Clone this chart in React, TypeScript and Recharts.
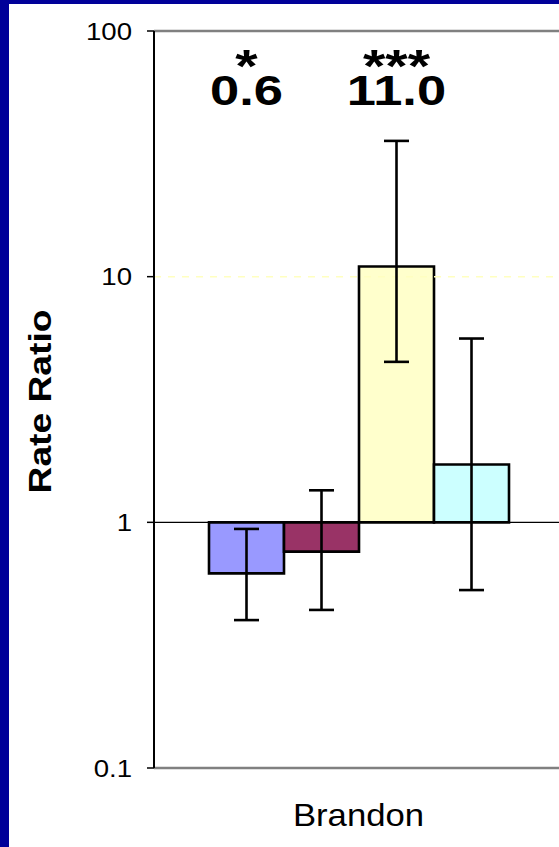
import { BarChart, Bar, XAxis, YAxis, ErrorBar, LabelList, ReferenceLine } from "recharts";

// values
const groups = ["Brandon"];
const seriesKeys = ["s0", "s1", "s2", "s3"];
const estimates = [0.62, 0.76, 11.0, 1.72];
const lowerCI = [0.4, 0.44, 4.5, 0.53];
const upperCI = [0.94, 1.35, 35.7, 5.6];
const stars = ["*", "", "***", ""];
const yTicks = [0.1, 1, 10, 100];

const barFills = ["#9999ff", "#993366", "#ffffcc", "#ccffff"];
const FONT = '"Liberation Sans", Arial, Helvetica, sans-serif';

// bars hang from 1 (the null ratio), so each is a [1, estimate] range
const data = groups.map((name) => {
  const row: Record<string, unknown> = { name };
  seriesKeys.forEach((k, i) => {
    row[k] = [1, estimates[i]];
    row[`${k}Err`] = [estimates[i] - lowerCI[i], upperCI[i] - estimates[i]];
  });
  return row;
});

function YTick({ x, y, payload }: any) {
  return (
    <text
      transform={`translate(${x},${y}) scale(1.15,1)`}
      textAnchor="end"
      dy="0.355em"
      fontSize={24}
      fontFamily={FONT}
      fill="#000"
    >
      {payload.value}
    </text>
  );
}

function XTick({ x, y, payload }: any) {
  return (
    <text
      transform={`translate(${x},${y}) scale(1.12,1)`}
      textAnchor="middle"
      dy="0.71em"
      fontSize={31}
      fontFamily={FONT}
      fill="#000"
    >
      {payload.value}
    </text>
  );
}

function AxisTitle({ viewBox }: any) {
  const cy = viewBox.y + viewBox.height / 2 + 2;
  return (
    <text
      transform={`translate(40,${cy}) rotate(-90) scale(1.2,1)`}
      textAnchor="middle"
      dy="0.355em"
      fontSize={31}
      fontWeight="bold"
      fontFamily={FONT}
      fill="#000"
    >
      Rate Ratio
    </text>
  );
}

// significance stars stacked over the rounded estimate, one text element
function SigLabel({ x, width, series }: any) {
  if (!stars[series]) return null;
  const cx = x + width / 2;
  return (
    <text
      transform={`translate(${cx},105) scale(1.25,1)`}
      textAnchor="middle"
      fontWeight="bold"
      fontFamily={FONT}
      fill="#000"
    >
      <tspan x={0} y={-23} fontSize={46}>
        {stars[series]}
      </tspan>
      <tspan x={0} y={0} fontSize={42}>
        {estimates[series].toFixed(1)}
      </tspan>
    </text>
  );
}

export default function App() {
  return (
    <div
      style={{
        position: "fixed",
        left: 0,
        top: 0,
        width: 559,
        height: 847,
        background: "#000099",
        overflow: "hidden",
      }}
    >
      <div style={{ position: "absolute", left: 9, top: 4, right: 0, bottom: 0, background: "#fff" }} />
      <div style={{ position: "absolute", left: 0, top: 0 }}>
        <BarChart
          width={563}
          height={847}
          data={data}
          margin={{ top: 31, right: 0, bottom: 0, left: 0 }}
          barGap={0}
          barSize={75}
        >
          <XAxis
            dataKey="name"
            height={79}
            tickLine={false}
            tickSize={0}
            tickMargin={36}
            axisLine={{ stroke: "#808080", strokeWidth: 2.5 }}
            tick={<XTick />}
            interval={0}
          />
          <YAxis
            scale="log"
            type="number"
            domain={[0.1, 100]}
            ticks={yTicks}
            allowDataOverflow
            interval={0}
            width={154}
            tickSize={7}
            tickMargin={15}
            axisLine={{ stroke: "#000", strokeWidth: 2 }}
            tickLine={{ stroke: "#000", strokeWidth: 1.5 }}
            tick={<YTick />}
            label={{ content: <AxisTitle /> }}
          />
          <ReferenceLine y={100} stroke="#808080" strokeWidth={2.5} />
          <ReferenceLine y={10} stroke="#ffffc0" strokeWidth={1.5} strokeDasharray="7 7" />
          <ReferenceLine y={1} stroke="#000" strokeWidth={1.2} />
          {seriesKeys.map((k, i) => (
            <Bar
              key={k}
              dataKey={k}
              fill={barFills[i]}
              stroke="#000"
              strokeWidth={2.6}
              isAnimationActive={false}
            >
              <ErrorBar
                dataKey={`${k}Err`}
                direction="y"
                width={12.5}
                stroke="#000"
                strokeWidth={2.6}
              />
              <LabelList dataKey={k} content={(p: any) => <SigLabel {...p} series={i} />} />
            </Bar>
          ))}
        </BarChart>
      </div>
    </div>
  );
}
